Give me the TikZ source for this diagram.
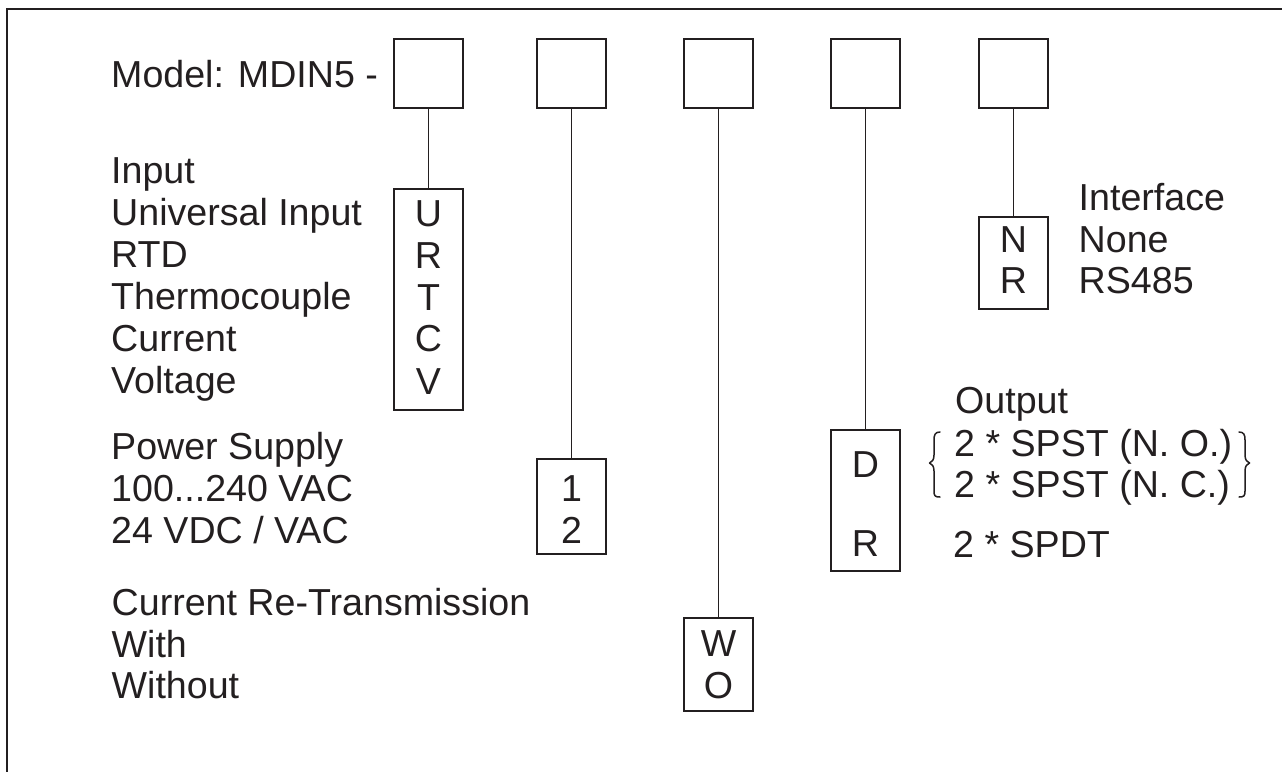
\documentclass[tikz,border=0pt]{standalone}
\usepackage{fontspec}
\setmainfont{Liberation Sans}
\definecolor{ink}{HTML}{231F20}
\tikzset{
  box/.style={draw=ink, line width=1.5pt, minimum width=69pt, inner sep=0pt, anchor=center},
  lbl/.style={text=ink, font=\fontsize{37.6}{42}\selectfont, inner sep=0pt, anchor=base west},
  code/.style={text=ink, font=\fontsize{37.6}{42}\selectfont, inner sep=0pt, anchor=base},
  wire/.style={draw=ink, line width=1.2pt},
  bracepath/.style={draw=ink, line width=1.5pt, line cap=round, line join=round},
}
\begin{document}
\begin{tikzpicture}[x=1pt,y=-1pt]
\useasboundingbox (0,0) rectangle (1282,771);
% frame
\draw[ink, line width=2pt] (7,800) -- (7,9) -- (1300,9);

% top boxes
\node[box, minimum height=69pt] (t1) at (428.5,73.5) {};
\node[box, minimum height=69pt] (t2) at (571.5,73.5) {};
\node[box, minimum height=69pt] (t3) at (718.5,73.5) {};
\node[box, minimum height=69pt] (t4) at (865.5,73.5) {};
\node[box, minimum height=69pt] (t5) at (1013.5,73.5) {};

% option boxes
\node[box, minimum height=221pt] (b1) at (428.5,299.5) {};
\node[box, minimum height=95pt] (b2) at (571.5,506.5) {};
\node[box, minimum height=93pt] (b3) at (718.5,664.5) {};
\node[box, minimum height=141pt] (b4) at (865.5,500.5) {};
\node[box, minimum height=92pt] (b5) at (1013.5,263) {};

% connectors
\draw[wire] (t1.south) -- (b1.north);
\draw[wire] (t2.south) -- (b2.north);
\draw[wire] (t3.south) -- (b3.north);
\draw[wire] (t4.south) -- (b4.north);
\draw[wire] (t5.south) -- (b5.north);

% model text
\node[lbl] (model) at (111,87) {Model: MDIN5 -};

% input
\node[lbl] (in0) at (111,183) {Input};
\node[lbl] (in1) at (111,225) {Universal Input};
\node[lbl] (in2) at (111,267) {RTD};
\node[lbl] (in3) at (111,309) {Thermocouple};
\node[lbl] (in4) at (111,351) {Current};
\node[lbl] (in5) at (111,393) {Voltage};
\node[code] (cU) at (428.5,226) {U};
\node[code] (cR) at (428.5,268) {R};
\node[code] (cT) at (428.5,310) {T};
\node[code] (cC) at (428.5,351) {C};
\node[code] (cV) at (428.5,394) {V};

% power supply
\node[lbl] (ps0) at (111,459) {Power Supply};
\node[lbl] (ps1) at (111,501) {100...240 VAC};
\node[lbl] (ps2) at (111,543) {24 VDC / VAC};
\node[code] (c1) at (571.5,501) {1};
\node[code] (c2) at (571.5,543) {2};

% retransmission
\node[lbl] (rt0) at (111.5,615) {Current Re-Transmission};
\node[lbl] (rt1) at (111.5,657) {With};
\node[lbl] (rt2) at (111.5,698) {Without};
\node[code] (cW) at (718.5,656) {W};
\node[code] (cO) at (718.5,698) {O};

% interface
\node[lbl] (if0) at (1078.5,210) {Interface};
\node[lbl] (if1) at (1078.5,252) {None};
\node[lbl] (if2) at (1078.5,293) {RS485};
\node[code] (cN) at (1013.5,252) {N};
\node[code] (cR2) at (1013.5,293) {R};

% output
\node[lbl] (out0) at (955,413) {Output};
\node[lbl] (out1) at (954,456) {2 * SPST (N. O.)};
\node[lbl] (out2) at (954,497) {2 * SPST (N. C.)};
\node[lbl] (out3) at (953,557) {2 * SPDT};
\node[code] (cD) at (865.5,477) {D};
\node[code] (cR3) at (865.5,556) {R};

% braces
\draw[bracepath] (940,432) .. controls (935,432) and (934,435) .. (934,440) -- (934,455)
  .. controls (934,460) and (932,462) .. (929.5,463)
  .. controls (932,464) and (934,466) .. (934,471) -- (934,491)
  .. controls (934,496) and (935,497) .. (940,497);
\draw[bracepath] (1239,432) .. controls (1244,432) and (1245,435) .. (1245,440) -- (1245,455)
  .. controls (1245,460) and (1247,462) .. (1249.5,463)
  .. controls (1247,464) and (1245,466) .. (1245,471) -- (1245,491)
  .. controls (1245,496) and (1244,497) .. (1239,497);
\end{tikzpicture}
\end{document}
